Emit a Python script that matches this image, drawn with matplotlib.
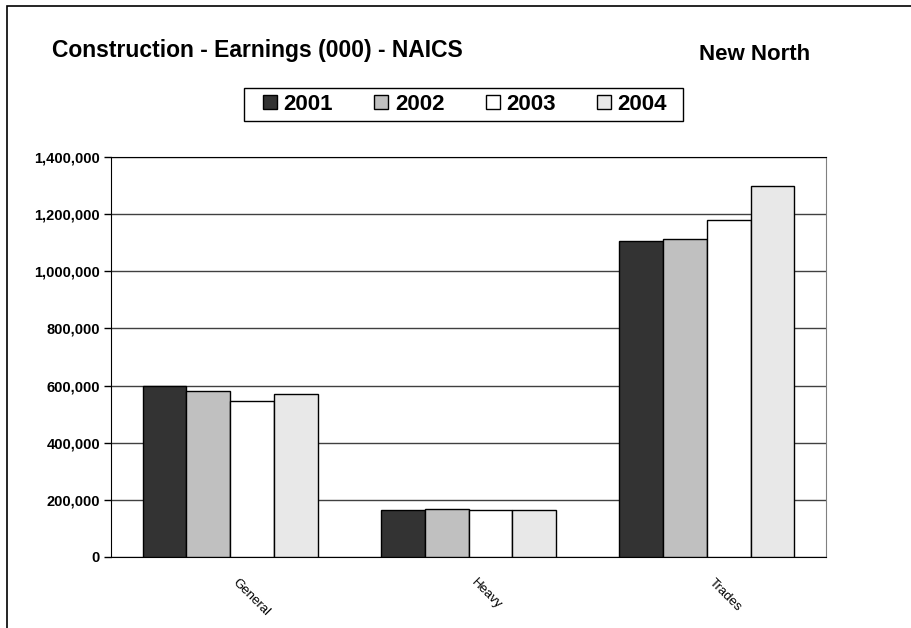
import numpy as np
import matplotlib.pyplot as plt
from matplotlib.patches import Rectangle
from matplotlib.ticker import FuncFormatter

categories = ['General', 'Heavy', 'Trades']
years = ['2001', '2002', '2003', '2004']
earn_2001 = [600000, 165000, 1105000]
earn_2002 = [580000, 167000, 1112000]
earn_2003 = [545000, 166000, 1180000]
earn_2004 = [570000, 166000, 1300000]
colors = ['#333333', '#c0c0c0', '#ffffff', '#e8e8e8']


def main():
    plt.rcParams['font.family'] = ['Liberation Sans', 'DejaVu Sans']
    fig = plt.figure(figsize=(9.11, 6.28), dpi=100)

    # outer chart border (right and bottom run off the picture)
    fig.patches.append(Rectangle((7 / 911, -0.05), 1.1, 1 - 6 / 628 + 0.05,
                                 transform=fig.transFigure, fill=False,
                                 edgecolor='black', linewidth=1.2))

    ax = fig.add_axes([111 / 911, 71 / 628, 715 / 911, 400 / 628])
    series = [earn_2001, earn_2002, earn_2003, earn_2004]
    x = np.arange(len(categories))
    w = 0.1835
    for i, vals in enumerate(series):
        ax.bar(x + (i - 1.5) * w, vals, w, color=colors[i], edgecolor='black',
               linewidth=1, label=years[i], zorder=3)

    ax.set_xlim(-0.5, 2.5)
    ax.set_ylim(0, 1400000)
    ax.set_yticks(np.arange(0, 1400001, 200000))
    ax.yaxis.set_major_formatter(FuncFormatter(lambda v, p: '{:,.0f}'.format(v)))
    ax.grid(axis='y', color='#404040', linewidth=1, zorder=0)
    ax.set_xticks(x)
    ax.set_xticklabels(categories, rotation=-45, ha='left', va='top',
                       fontsize=9.5)
    ax.tick_params(axis='x', length=0, pad=14)
    ax.tick_params(axis='y', length=5, width=1, labelsize=10.5, pad=3)
    for lab in ax.get_yticklabels():
        lab.set_fontweight('bold')
    for s in ['left', 'bottom', 'top']:
        ax.spines[s].set_color('black')
    ax.spines['right'].set_color('#808080')

    fig.text(52 / 911, 1 - 50 / 628, 'Construction - Earnings (000) - NAICS',
             fontsize=16.5, fontweight='bold', va='center', ha='left')
    fig.text(755 / 911, 1 - 54 / 628, 'New North', fontsize=16,
             fontweight='bold', va='center', ha='center')

    # legend without its own frame; box drawn separately for wider side padding
    fig.legend(loc='center', bbox_to_anchor=(465 / 911, 1 - 104.5 / 628),
               ncol=4, frameon=False,
               handlelength=0.63, handleheight=0.63, handletextpad=0.3,
               columnspacing=1.85, borderpad=0.3,
               prop={'weight': 'bold', 'size': 16})
    fig.patches.append(Rectangle((244 / 911, 1 - 121 / 628), 439 / 911, 33 / 628,
                                 transform=fig.transFigure, fill=False,
                                 edgecolor='black', linewidth=1))

    plt.savefig('out.png', dpi=100)


if __name__ == "__main__":
    main()
